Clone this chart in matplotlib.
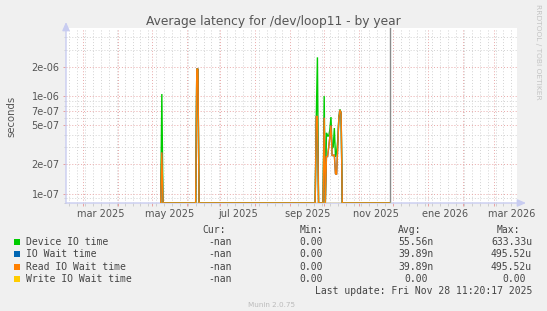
import numpy as np
import matplotlib
matplotlib.use('Agg')
import matplotlib.pyplot as plt
import matplotlib.dates as mdates
from matplotlib.ticker import FixedLocator, FuncFormatter, NullFormatter
from datetime import datetime, timedelta

# ---------------- data ----------------
dates = ['2025-05-09', '2025-05-10', '2025-05-11', '2025-06-09', '2025-06-10', '2025-06-11',
         '2025-06-12', '2025-09-23', '2025-09-24', '2025-09-25', '2025-09-26', '2025-09-30',
         '2025-10-01', '2025-10-02', '2025-10-03', '2025-10-04', '2025-10-05', '2025-10-06',
         '2025-10-07', '2025-10-08', '2025-10-09', '2025-10-10', '2025-10-11', '2025-10-12',
         '2025-10-13', '2025-10-14', '2025-10-15', '2025-10-16', '2025-10-17', '2025-11-28']
device_io = [0, 1.05e-6, 0, 0, 1.9e-6, 1.9e-6,
             0, 0, 6.2e-7, 2.5e-6, 0, 0,
             1.0e-6, 0, 4.2e-7, 3.9e-7, 3.9e-7, 4.5e-7,
             6.1e-7, 2.9e-7, 3.0e-7, 4.7e-7, 2.4e-7, 2.66e-7,
             3.5e-7, 6.0e-7, 7.3e-7, 6.7e-7, 0, 0]
io_wait = [0, 2.65e-7, 0, 0, 1.9e-6, 1.9e-6,
           0, 0, 6.2e-7, 6.2e-7, 0, 0,
           6.0e-7, 0, 2.4e-7, 2.4e-7, 3.0e-7, 3.8e-7,
           5.0e-7, 2.46e-7, 2.45e-7, 2.5e-7, 1.6e-7, 1.57e-7,
           3.0e-7, 6.0e-7, 7.2e-7, 6.7e-7, 0, 0]
read_io_wait = [0, 2.65e-7, 0, 0, 1.9e-6, 1.9e-6,
                0, 0, 6.2e-7, 6.2e-7, 0, 0,
                6.0e-7, 0, 2.4e-7, 2.4e-7, 3.0e-7, 3.8e-7,
                5.0e-7, 2.46e-7, 2.45e-7, 2.5e-7, 1.6e-7, 1.57e-7,
                3.0e-7, 6.0e-7, 7.2e-7, 6.7e-7, 0, 0]
write_io_wait = [0, 0, 0, 0, 0, 0, 0, 0, 0, 0, 0, 0, 0, 0, 0,
                 0, 0, 0, 0, 0, 0, 0, 0, 0, 0, 0, 0, 0, 0, 0]

series_names = ['Device IO time', 'IO Wait time', 'Read IO Wait time', 'Write IO Wait time']
series_colors = ['#00cc00', '#0066b3', '#ff8000', '#ffcc00']
cur_vals = ['-nan', '-nan', '-nan', '-nan']
min_vals = ['0.00', '0.00', '0.00', '0.00']
avg_vals = ['55.56n', '39.89n', '39.89n', '0.00']
max_vals = ['633.33u', '495.52u', '495.52u', '0.00']

y_major = [1e-7, 2e-7, 5e-7, 7e-7, 1e-6, 2e-6]
y_minor = [8e-8, 9e-8, 3e-7, 4e-7, 6e-7, 8e-7, 9e-7, 3e-6, 4e-6]
x_labels = ['mar 2025', 'may 2025', 'jul 2025', 'sep 2025', 'nov 2025', 'ene 2026', 'mar 2026']
x_label_months = ['2025-03', '2025-05', '2025-07', '2025-09', '2025-11', '2026-01', '2026-03']
now_date = '2025-11-28'
title = 'Average latency for /dev/loop11 - by year'
last_update = 'Last update: Fri Nov 28 11:20:17 2025'

# ---------------- figure ----------------
W, H = 547, 311
BG = '#f0f0f0'
fig = plt.figure(figsize=(W / 100, H / 100), dpi=100, facecolor=BG)
L, R, T, B = 66, 517, 28, 203
ax = fig.add_axes([L / W, (H - B) / H, (R - L) / W, (B - T) / H])
ax.set_facecolor('white')

ymin, ymax = 8e-8, 5e-6
ax.set_yscale('log')
ax.set_ylim(ymin, ymax)
ax.set_xlim(datetime(2025, 2, 14), datetime(2026, 3, 21))

x = [datetime.strptime(d, '%Y-%m-%d') for d in dates]


def clamp(v):
    a = np.asarray(v, dtype=float)
    return np.where(a <= 0, ymin, a)


for vals, col in zip([device_io, io_wait, read_io_wait, write_io_wait], series_colors):
    ax.plot(x, clamp(vals), color=col, lw=1.0, zorder=5, solid_joinstyle='miter')

ax.axvline(datetime.strptime(now_date, '%Y-%m-%d'), color='#8a8a8a', lw=1.0, zorder=4)

# grid
ax.xaxis.set_major_locator(mdates.MonthLocator())
ax.xaxis.set_minor_locator(mdates.WeekdayLocator(byweekday=mdates.MO))
ax.xaxis.set_major_formatter(NullFormatter())
ax.xaxis.set_minor_formatter(NullFormatter())
ax.yaxis.set_major_locator(FixedLocator(y_major))
ax.yaxis.set_minor_locator(FixedLocator(y_minor))
ax.yaxis.set_major_formatter(FuncFormatter(lambda v, p: f'{v:.0e}'))
ax.yaxis.set_minor_formatter(NullFormatter())

dots = (0, (1, 2))
ax.grid(which='minor', color='#d2d2d2', lw=0.7, linestyle=dots, zorder=1)
ax.grid(which='major', color='#e8a8a8', lw=0.7, linestyle=dots, zorder=2)
ax.set_axisbelow(True)

ax.tick_params(axis='both', which='major', length=2.5, width=0.7, color='#e8a0a0',
               labelsize=7, labelcolor='#555555', pad=2)
ax.tick_params(axis='both', which='minor', length=1.8, width=0.6, color='#c8c8c8')

for s in ax.spines.values():
    s.set_visible(False)

axis_col = '#c8ccf0'
ax.annotate('', xy=(0, (B - 22) / (B - T)), xytext=(0, 0), xycoords='axes fraction',
            arrowprops=dict(arrowstyle='-|>,head_length=0.5,head_width=0.22', color=axis_col, lw=1.0,
                            shrinkA=0, shrinkB=0), annotation_clip=False, zorder=6)
ax.annotate('', xy=((526 - L) / (R - L), 0), xytext=(0, 0), xycoords='axes fraction',
            arrowprops=dict(arrowstyle='-|>,head_length=0.5,head_width=0.22', color=axis_col, lw=1.0,
                            shrinkA=0, shrinkB=0), annotation_clip=False, zorder=4)

# x labels at month middle
tr = ax.get_xaxis_transform()
for lab, m in zip(x_labels, x_label_months):
    d0 = datetime.strptime(m + '-01', '%Y-%m-%d')
    d1 = (d0 + timedelta(days=32)).replace(day=1)
    mid = d0 + (d1 - d0) / 2
    ax.text(mid, -0.035, lab, transform=tr, ha='center', va='top', fontsize=7,
            color='#555555', clip_on=False)


def px(xp, yp):
    return xp / W, 1 - yp / H


fig.text(*px(273.5, 25), title, ha='center', va='baseline', fontsize=8.8, color='#555555')
fig.text(*px(11, 116), 'seconds', rotation=90, ha='center', va='center', fontsize=7.3,
         color='#555555')
fig.text(*px(538, 4), 'RRDTOOL / TOBI OETIKER', rotation=270, ha='center', va='top',
         fontsize=5.4, color='#c4c4c4')

mono = 'DejaVu Sans Mono'
tc = '#444444'
fs = 7
hy = 230
for lab, xl in zip(['Cur:', 'Min:', 'Avg:', 'Max:'], [202, 300, 398, 497]):
    fig.text(*px(xl, hy), lab, ha='left', va='center', family=mono, fontsize=fs, color=tc)

row_y = [241.7, 254.2, 266.8, 279.3]
cw = 5.9
for i in range(4):
    y = row_y[i]
    fig.patches.append(plt.Rectangle(px(13.5, y + 3), 6 / W, 6 / H, transform=fig.transFigure,
                                     facecolor=series_colors[i], edgecolor='none', figure=fig))
    fig.text(*px(26, y), series_names[i], ha='left', va='center', family=mono, fontsize=fs, color=tc)
    cols = [(cur_vals[i], 232), (min_vals[i], 329), (avg_vals[i], 434), (max_vals[i], 532)]
    for val, xr in cols:
        if val[-1] not in 'nu' and val != '-nan':
            xr = xr - cw
        fig.text(*px(xr, y), val, ha='right', va='center', family=mono, fontsize=fs, color=tc)

fig.text(*px(532, 291.5), last_update, ha='right', va='center', family=mono, fontsize=fs, color=tc)
fig.text(*px(272, 305), 'Munin 2.0.75', ha='center', va='center', fontsize=5.2, color='#bbbbbb')

fig.savefig('out.png', dpi=100, facecolor=BG)
